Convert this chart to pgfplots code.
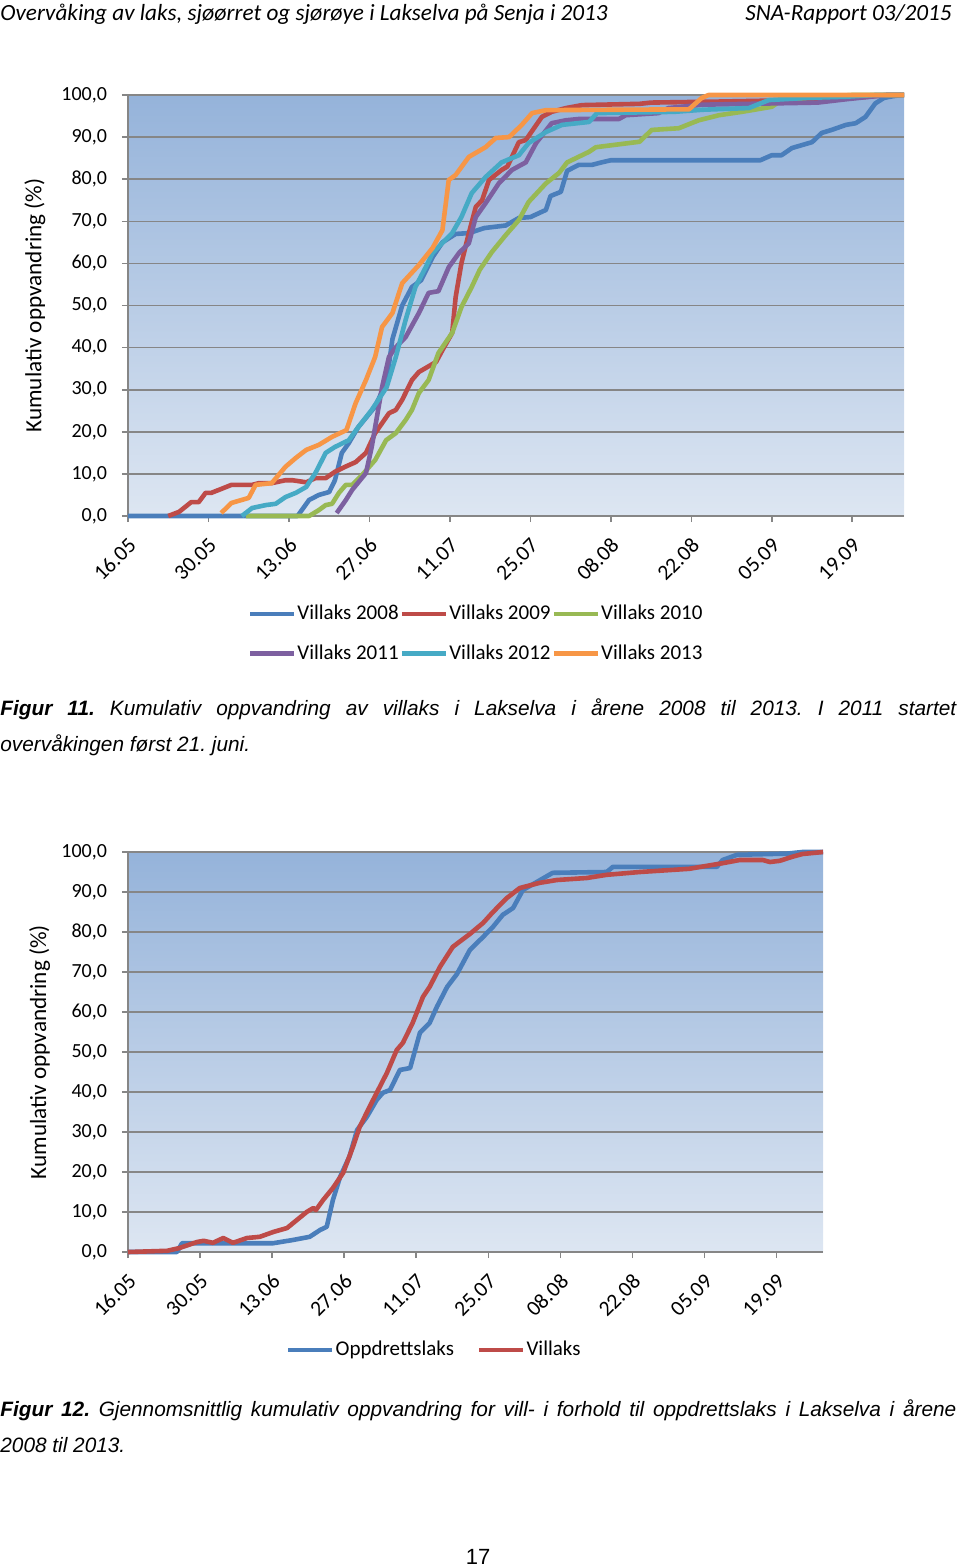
\documentclass[border=0pt]{standalone}
\usepackage{fontspec}
\setmainfont{Carlito}
\newfontfamily\arialfont{Liberation Sans}
\usepackage{pgfplots}
\pgfplotsset{compat=1.18}

\definecolor{c08}{HTML}{4A7EBB}
\definecolor{c09}{HTML}{BE4B48}
\definecolor{c10}{HTML}{98B954}
\definecolor{c11}{HTML}{7D60A0}
\definecolor{c12}{HTML}{46AAC5}
\definecolor{c13}{HTML}{F79646}
\definecolor{gridgray}{RGB}{134,134,134}
\definecolor{bgtop}{RGB}{149,179,218}
\definecolor{bgbot}{RGB}{221,230,242}

\pgfplotsset{
  lakselva/.style={
    scale only axis, clip=false,
    xmin=0, xmax=135, ymin=0, ymax=100,
    xtick={0,14,...,126},
    xticklabels={16.05,30.05,13.06,27.06,11.07,25.07,08.08,22.08,05.09,19.09},
    ytick={0,10,...,100},
    ymajorgrids,
    major grid style={gridgray, line width=0.8pt},
    axis x line*=bottom, axis y line*=left,
    axis line style={gridgray, line width=0.8pt},
    tick style={gridgray, line width=0.8pt},
    tick align=outside, major tick length=3pt,
    axis background/.style={top color=bgtop, bottom color=bgbot},
    /pgf/number format/fixed, /pgf/number format/fixed zerofill,
    /pgf/number format/precision=1, /pgf/number format/use comma,
    /pgf/number format/assume math mode=true,
    tick label style={font=\fontsize{10}{12}\selectfont},
    yticklabel style={xshift=-4pt},
    xticklabel style={font=\fontsize{10.8}{12}\selectfont, rotate=45, anchor=east, xshift=-2pt, yshift=-8.5pt},
    label style={font=\fontsize{11.6}{13}\selectfont},
    legend image code/.code={\draw[#1] (0pt,0pt) -- (22pt,0pt);},
    every axis plot/.append style={line width=2.3pt, line join=round},
  }
}

\begin{document}
\frenchspacing
\begin{tikzpicture}
\path[use as bounding box] (0pt,0pt) rectangle (480pt,-784pt);

% header
\node[anchor=base west, inner sep=0pt, font=\fontsize{11.6}{13}\selectfont\itshape] at (0pt,-10.5pt)
  {Overvåking av laks, sjøørret og sjørøye i Lakselva på Senja i 2013};
\node[anchor=base east, inner sep=0pt, font=\fontsize{11.6}{13}\selectfont\itshape] at (476pt,-10.5pt)
  {SNA-Rapport 03/2015};

% figure 11
\begin{axis}[lakselva,
  at={(64pt,-258pt)}, anchor=south west,
  width=388pt, height=210.5pt,
  ylabel={Kumulativ oppvandring (\%)},
  ylabel style={at={(axis description cs:-0.12,0.5)}, anchor=center},
  legend style={at={(0.448,-0.28)}, anchor=center, draw=none, fill=none,
    legend columns=3, font=\fontsize{10.5}{12}\selectfont, row sep=7pt,
    nodes={inner xsep=0.5pt},
    /tikz/every even column/.append style={column sep=0pt}},
]
\addplot[c08] coordinates {(0,0) (29.5,0) (31.5,3.8) (33.2,5) (35,5.7) (36,8.5) (37.2,15) (38.4,17.3) (40,21) (43,26) (45,32) (46,42) (47.7,50) (49.4,54.4) (51,56) (53,61.5) (54.7,65) (57,67) (59.3,67.2) (62,68.4) (65.7,69) (68,70.8) (70,71) (72.7,72.7) (73.5,76) (75.3,77) (76.4,82) (78.4,83.4) (80.7,83.4) (82.4,84) (84,84.5) (110,84.5) (112,85.7) (113.7,85.7) (115.5,87.4) (119,88.8) (120.7,91) (122.4,91.7) (124.9,92.9) (126.6,93.3) (128.3,94.8) (130,98) (131.5,99.3) (133,99.7) (134.5,100)};
\addlegendentry{Villaks 2008}
\addplot[c09] coordinates {(7,0) (8.9,1) (11,3.3) (12.3,3.3) (13.5,5.5) (14.5,5.5) (15.8,6.2) (18,7.4) (21.6,7.4) (22.8,7.8) (25,7.8) (27.4,8.5) (28.6,8.5) (31,8) (32.6,9) (34.4,9) (36,10.5) (37.8,11.7) (39.6,12.8) (41.4,15) (43,19.7) (45.4,24.4) (46.6,25.2) (47.7,27.6) (49.4,32.3) (50.6,34.2) (53.6,36.6) (54.7,39.4) (56.4,43.5) (57,52) (58,60) (59.3,67.2) (60.5,73.4) (61.6,75) (62.8,79.8) (65,82.2) (66,83) (68,88.8) (69.2,89.3) (72,94.8) (73.7,96) (76.2,96.9) (79,97.6) (89,97.9) (91,98.2) (101,98.4) (113,98.7) (125,99.2) (128,99.5) (132,100) (135,100)};
\addlegendentry{Villaks 2009}
\addplot[c10] coordinates {(20.5,0) (31.5,0) (33.2,1.4) (34.4,2.6) (35.5,2.9) (36.7,5.5) (37.9,7.4) (39,7.4) (40.7,9.7) (43,13.3) (44.9,18) (46.6,19.7) (48.3,22.8) (49.4,25.2) (50.6,29.2) (52.3,32.3) (54,38.7) (56.4,43.5) (58,49.6) (59.8,54.4) (61.2,58.5) (63.3,62.7) (65.7,66.7) (68,70.3) (69.7,74.6) (72.7,79) (75,81.5) (76.4,84) (80.2,86.5) (81.4,87.6) (89,88.9) (91.1,91.7) (95.8,92.1) (99.3,94) (102.8,95.2) (106.8,96) (112,97.2) (113.2,98.3) (115,99) (120,99.5) (126,100) (135,100)};
\addlegendentry{Villaks 2010}
\addplot[c11] coordinates {(36.3,0.7) (37.9,3.8) (39,6.2) (41.4,10.2) (42.4,16.4) (44.2,30.6) (45.4,37.8) (46.6,40.1) (48.3,42.5) (50.6,48.2) (52.3,53) (54,53.4) (55.8,59.1) (57.6,62.5) (59.3,64.8) (60.5,71) (62.2,74.3) (64.5,79) (66.8,82.2) (69.2,84) (71,88.6) (73.7,93.3) (76.2,94) (78.4,94.3) (85.4,94.3) (86.6,95.2) (92.3,95.7) (94,96.9) (100,97.7) (120,98.2) (125,99) (132,100) (135,100)};
\addlegendentry{Villaks 2011}
\addplot[c12] coordinates {(19.8,0) (21.6,1.9) (24,2.6) (25.7,2.9) (27.4,4.5) (29.2,5.5) (31,6.9) (32.6,10.2) (34.4,15) (36,16.4) (38.4,18) (40,21) (42.4,25.2) (45,30.6) (46.6,37.8) (48.3,46.6) (50,54.4) (51.8,59.1) (53,62.5) (56.4,67.2) (58,71) (59.8,76.7) (62.2,80.5) (65,84) (68,85.7) (69.7,88.6) (72.7,91.2) (75.5,92.9) (80.2,93.6) (81.6,95.7) (95,96) (100,96.5) (108,96.9) (111.5,98.8) (118,99.3) (125,99.6) (130,100) (135,100)};
\addlegendentry{Villaks 2012}
\addplot[c13] coordinates {(16.2,0.7) (18,3.1) (21,4.3) (22.2,7.4) (25,7.8) (27.4,11.7) (29.2,13.8) (31,15.7) (33.2,16.9) (35.5,18.8) (38,20.4) (39.6,26.8) (41.4,32.3) (43,37.8) (44.2,44.9) (46,48.2) (47.7,55.3) (50.6,59.6) (53,63.7) (54.7,67.9) (55.8,79.8) (57,81) (59.3,85.3) (62.2,87.6) (64,89.8) (66.3,90) (68.5,92.9) (70.3,95.7) (72.7,96.4) (97.6,96.6) (99.8,99.3) (101,100) (135,100)};
\addlegendentry{Villaks 2013}
\end{axis}

% caption 11
\node[anchor=base west, inner sep=0pt, font=\arialfont\fontsize{10.4}{12}\selectfont\itshape] at (0pt,-357.5pt)
  {\makebox[478pt][s]{\textbf{Figur 11.} Kumulativ oppvandring av villaks i Lakselva i årene 2008 til 2013. I 2011 startet}};
\node[anchor=base west, inner sep=0pt, font=\arialfont\fontsize{10.4}{12}\selectfont\itshape] at (0pt,-375.5pt)
  {overvåkingen først 21. juni.};

% figure 12
\begin{axis}[lakselva,
  at={(64pt,-626pt)}, anchor=south west,
  width=347.5pt, height=200pt,
  ylabel={Kumulativ oppvandring (\%)},
  ylabel style={at={(axis description cs:-0.127,0.5)}, anchor=center},
  legend style={at={(0.44,-0.245)}, anchor=center, draw=none, fill=none,
    legend columns=2, font=\fontsize{10.5}{12}\selectfont,
    nodes={inner xsep=0.5pt},
    /tikz/every even column/.append style={column sep=11pt}},
]
\addplot[c08] coordinates {(0,0) (9.5,0) (10.5,2.2) (28.2,2.2) (32,3) (35.3,3.8) (37.3,5.5) (38.6,6.3) (39.8,13) (41.2,18.8) (43,23.8) (44.5,30.5) (46.4,33.8) (48.3,38) (49.5,39.8) (50.9,40.5) (52.8,45.5) (54.8,46) (56.7,54.8) (58.6,57.3) (60,61.3) (62,66.3) (63.9,69.5) (66.4,75.5) (69,78.8) (70.9,81.3) (72.8,84.3) (74.8,86) (76.7,90.5) (79.4,92.5) (82.5,94.8) (93,95) (94.2,96.3) (114.4,96.3) (115.5,98) (118.3,99.3) (128,99.6) (131,100) (135,100)};
\addlegendentry{Oppdrettslaks}
\addplot[c09] coordinates {(0,0) (7.6,0.3) (10,1) (13.4,2.5) (14.7,2.8) (16.5,2.3) (18.5,3.5) (20.4,2.3) (23.1,3.5) (25.6,3.8) (28.2,5) (30.9,6) (32.8,8) (34.7,10) (36,11) (36.5,10.5) (37.9,13) (39.8,16) (41.8,19.8) (43.7,26.3) (45,31.3) (47.6,38) (50.3,44.8) (52.2,50.5) (53.4,52.3) (55.3,57.3) (57.3,63.8) (58.6,66.3) (60.6,71.3) (63.1,76.3) (66.4,79.5) (69,82.3) (70.9,85) (73.6,88.5) (76.1,91) (80,92.3) (83.3,93) (89.1,93.5) (93,94.3) (99.4,95) (109,95.8) (115.5,97.2) (118.8,98) (123.3,98) (124.7,97.5) (126.6,97.8) (129,98.8) (131,99.5) (135,100)};
\addlegendentry{Villaks}
\end{axis}

% caption 12
\node[anchor=base west, inner sep=0pt, font=\arialfont\fontsize{10.4}{12}\selectfont\itshape] at (0pt,-708pt)
  {\makebox[478pt][s]{\textbf{Figur 12.} Gjennomsnittlig kumulativ oppvandring for vill- i forhold til oppdrettslaks i Lakselva i årene}};
\node[anchor=base west, inner sep=0pt, font=\arialfont\fontsize{10.4}{12}\selectfont\itshape] at (0pt,-726pt)
  {2008 til 2013.};

% page number
\node[anchor=base, inner sep=0pt, font=\arialfont\fontsize{11}{13}\selectfont] at (239pt,-782pt) {17};
\end{tikzpicture}
\end{document}
